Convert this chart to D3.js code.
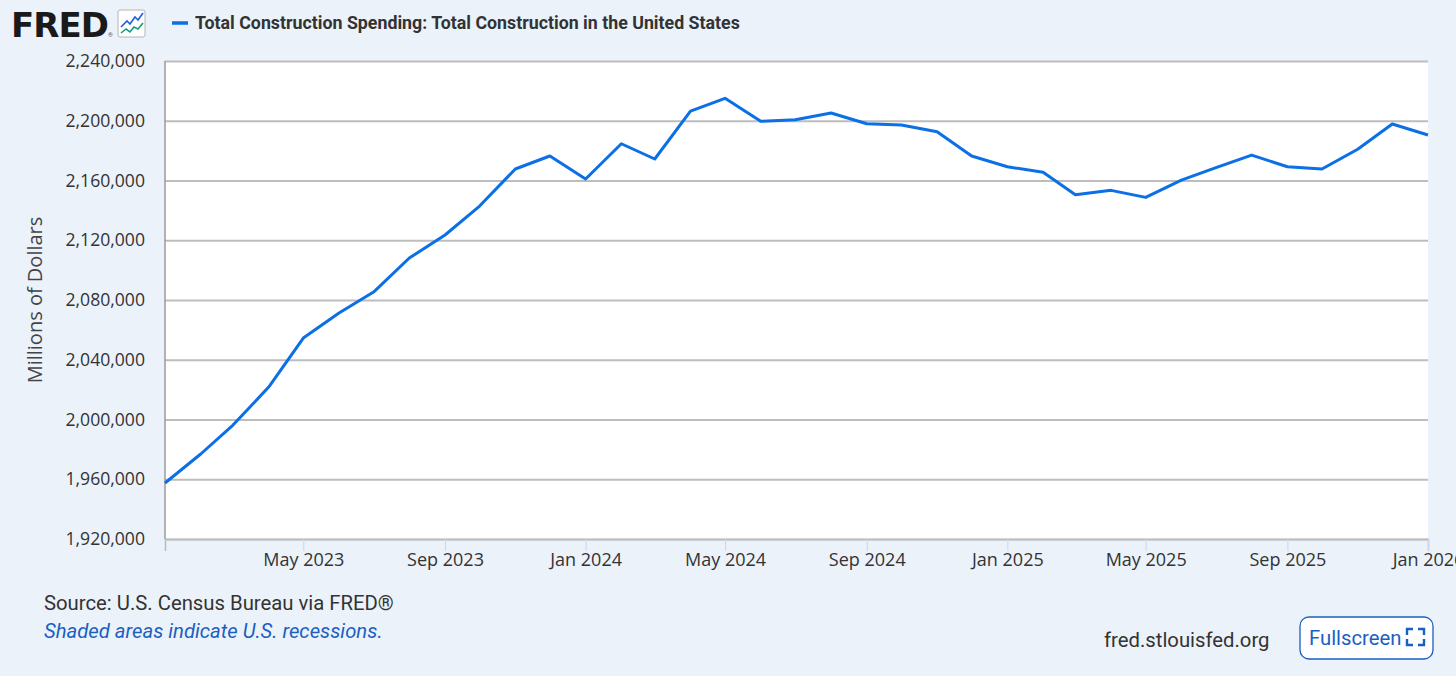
<!DOCTYPE html>
<html>
<head>
<meta charset="utf-8">
<script src="https://cdn.jsdelivr.net/npm/d3@7"></script>
<style>
  body { margin: 0; background: #ebf2fa; }
  svg { display: block; }
</style>
</head>
<body>
<script>
// monthly values, Jan 2023 .. Jan 2026 (millions of dollars)
var months = ["2023-01","2023-02","2023-03","2023-04","2023-05","2023-06","2023-07","2023-08","2023-09","2023-10","2023-11","2023-12",
              "2024-01","2024-02","2024-03","2024-04","2024-05","2024-06","2024-07","2024-08","2024-09","2024-10","2024-11","2024-12",
              "2025-01","2025-02","2025-03","2025-04","2025-05","2025-06","2025-07","2025-08","2025-09","2025-10","2025-11","2025-12",
              "2026-01"];
var spending = [1957500, 1976900, 1996300, 2021700, 2054500, 2071300, 2085300, 2108100, 2123500, 2142900, 2167700, 2176400,
                2161000, 2184600, 2174400, 2206500, 2215000, 2199600, 2200700, 2205200, 2198000, 2197100, 2192700, 2176400,
                2169200, 2165500, 2150500, 2153400, 2148700, 2160300, 2168600, 2177000, 2169200, 2167700, 2180900, 2197800,
                2190500];
var yTicks = [1920000, 1960000, 2000000, 2040000, 2080000, 2120000, 2160000, 2200000, 2240000];
var xTickLabels = ["2023-05","2023-09","2024-01","2024-05","2024-09","2025-01","2025-05","2025-09","2026-01"];

var W = 1456, H = 683;
var margin = {left: 165, right: 28, top: 61, bottom: 144};
var parse = d3.timeParse("%Y-%m");
var data = months.map(function(m, i) { return {date: parse(m), value: spending[i]}; });

var svg = d3.select("body").append("svg").attr("width", W).attr("height", H);
svg.append("rect").attr("width", W).attr("height", H).attr("fill", "#ebf2fa");
svg.append("rect").attr("y", 676).attr("width", W).attr("height", 7).attr("fill", "#ffffff");

var x = d3.scaleTime()
    .domain([parse("2023-01"), parse("2026-01")])
    .range([margin.left, W - margin.right]);
var y = d3.scaleLinear()
    .domain([1920000, 2240000])
    .range([H - margin.bottom, margin.top]);

// plot area
svg.append("rect")
   .attr("x", margin.left).attr("y", margin.top)
   .attr("width", W - margin.right - margin.left)
   .attr("height", H - margin.bottom - margin.top)
   .attr("fill", "#ffffff");

// y grid + labels
var yAxis = svg.append("g")
   .attr("transform", "translate(" + margin.left + ",0)")
   .call(d3.axisLeft(y).tickValues(yTicks).tickSize(-(W - margin.right - margin.left)).tickPadding(20)
         .tickFormat(d3.format(",")));
yAxis.select(".domain").remove();
yAxis.selectAll(".tick line").attr("stroke", "#bdbdbd").attr("stroke-width", 2);
yAxis.selectAll(".tick text")
   .attr("font-family", "'Open Sans', sans-serif").attr("font-size", "17.6px").attr("fill", "#333333");

// left axis line
svg.append("line")
   .attr("x1", margin.left).attr("x2", margin.left)
   .attr("y1", margin.top).attr("y2", H - margin.bottom)
   .attr("stroke", "#9a9a9a").attr("stroke-width", 1.5);

// x axis
var xAxis = svg.append("g")
   .attr("transform", "translate(0," + (H - margin.bottom) + ")")
   .call(d3.axisBottom(x).tickValues(xTickLabels.map(parse)).tickSize(12).tickPadding(2)
         .tickFormat(d3.timeFormat("%b %Y")));
xAxis.select(".domain").attr("stroke", "#bdbdbd").attr("stroke-width", 1.5);
xAxis.selectAll(".tick line").attr("stroke", "#ccd6eb").attr("stroke-width", 1);
xAxis.selectAll(".tick text")
   .attr("font-family", "'Open Sans', sans-serif").attr("font-size", "18px").attr("fill", "#333333");

// y axis title
svg.append("text")
   .attr("transform", "translate(42," + ((margin.top + H - margin.bottom) / 2) + ") rotate(-90)")
   .attr("text-anchor", "middle")
   .attr("font-family", "'Open Sans', sans-serif").attr("font-size", "20px").attr("fill", "#444444")
   .text("Millions of Dollars");

// the series
var line = d3.line()
   .x(function(d) { return x(d.date); })
   .y(function(d) { return y(d.value); });
svg.append("path")
   .datum(data)
   .attr("d", line)
   .attr("fill", "none")
   .attr("stroke", "#0b6fe6")
   .attr("stroke-width", 3)
   .attr("stroke-linejoin", "round");

// header: logo + legend
svg.append("text")
   .attr("x", 11).attr("y", 37)
   .attr("font-family", "'DejaVu Sans', sans-serif").attr("font-weight", 700).attr("font-size", "34px")
   .attr("letter-spacing", "-1px").attr("fill", "#1a1a1a")
   .text("FRED");
svg.append("text")
   .attr("x", 108).attr("y", 37)
   .attr("font-family", "Roboto, sans-serif").attr("font-size", "6px").attr("fill", "#555")
   .text("®");
var icon = svg.append("g").attr("transform", "translate(118,10)");
icon.append("rect").attr("width", 27).attr("height", 27).attr("rx", 2)
   .attr("fill", "#ffffff").attr("stroke", "#b5b5b5");
icon.append("path").attr("d", "M3,17 L9,11 L12,14 L17,7 L20,10 L25,3")
   .attr("fill", "none").attr("stroke", "#1f5fd6").attr("stroke-width", 1.6);
icon.append("path").attr("d", "M3,23 L8,19 L12,22 L16,17 L20,19 L25,13")
   .attr("fill", "none").attr("stroke", "#1a9b7d").attr("stroke-width", 1.6);

svg.append("line")
   .attr("x1", 172).attr("x2", 188).attr("y1", 23).attr("y2", 23)
   .attr("stroke", "#0b6fe6").attr("stroke-width", 3.5);
svg.append("text")
   .attr("x", 195).attr("y", 29)
   .attr("font-family", "Roboto, sans-serif").attr("font-weight", 700).attr("font-size", "17.8px")
   .attr("fill", "#333333")
   .text("Total Construction Spending: Total Construction in the United States");

// footer
svg.append("text")
   .attr("x", 44).attr("y", 610)
   .attr("font-family", "Roboto, sans-serif").attr("font-size", "20.3px").attr("fill", "#333333")
   .text("Source: U.S. Census Bureau via FRED®");
svg.append("text")
   .attr("x", 44).attr("y", 638)
   .attr("font-family", "Roboto, sans-serif").attr("font-style", "italic").attr("font-size", "20.3px")
   .attr("fill", "#1b5fc1")
   .text("Shaded areas indicate U.S. recessions.");
svg.append("text")
   .attr("x", 1104).attr("y", 647)
   .attr("font-family", "Roboto, sans-serif").attr("font-size", "20.3px").attr("fill", "#333333")
   .text("fred.stlouisfed.org");

var btn = svg.append("g").attr("transform", "translate(1300,617)");
btn.append("rect").attr("width", 133).attr("height", 42).attr("rx", 9)
   .attr("fill", "#ffffff").attr("stroke", "#1b5fc1").attr("stroke-width", 1.3);
btn.append("text").attr("x", 9).attr("y", 28)
   .attr("font-family", "Roboto, sans-serif").attr("font-size", "20.3px").attr("fill", "#1b5fc1")
   .text("Fullscreen");
btn.append("path")
   .attr("d", "M107,18 V12 H113 M118,12 H124 V18 M124,22 V28 H118 M113,28 H107 V22")
   .attr("fill", "none").attr("stroke", "#1b5fc1").attr("stroke-width", 2.4);
</script>
</body>
</html>
